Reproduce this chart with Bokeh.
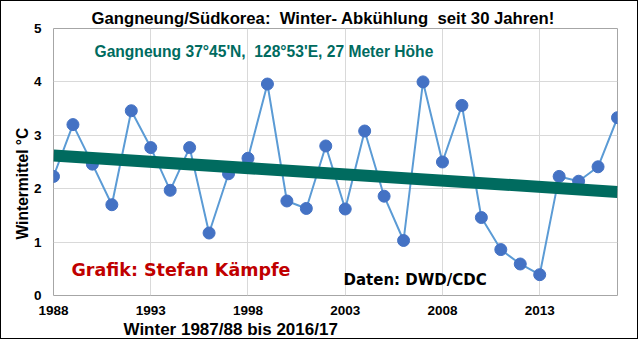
from bokeh.plotting import figure
from bokeh.models import Range1d, FixedTicker, Label, Title
from bokeh.embed import file_html
from bokeh.resources import INLINE

years = list(range(1988, 2018))
temps = [2.23, 3.20, 2.46, 1.70, 3.46, 2.77, 1.97, 2.77, 1.17, 2.28,
         2.57, 3.96, 1.77, 1.63, 2.80, 1.62, 3.08, 1.86, 1.03, 4.00,
         2.50, 3.56, 1.46, 0.86, 0.59, 0.39, 2.23, 2.14, 2.41, 3.33]
trend_years = [1988, 2017]
trend_vals = [2.62, 1.94]
x_ticks = [1988, 1993, 1998, 2003, 2008, 2013]
y_ticks = [0, 1, 2, 3, 4, 5]

NB = "\u00a0"
title_text = "Gangneung/Südkorea:" + NB + " Winter- Abkühlung" + NB + " seit 30 Jahren!"
station_text = "Gangneung 37°45'N," + NB + " 128°53'E, 27 Meter Höhe"
author_text = "Grafik: Stefan Kämpfe"
source_text = "Daten: DWD/CDC"
xlabel = "Winter 1987/88 bis 2016/17"
ylabel = "Wintermittel °C"

FONT = "Liberation Sans"
WIDE = "DejaVu Sans"
TEAL = "#006B5F"

W, H = 638, 339
FL, FT, FR, FB = 52, 27, 616, 294  # frame edges in canvas pixels

p = figure(width=W, height=H, output_backend="svg", toolbar_location=None,
           x_range=Range1d(1988, 2017), y_range=Range1d(0, 5),
           min_border_left=FL, min_border_right=W - FR, min_border_top=FT,
           min_border_bottom=H - FB)
p.styles = {"border": "1px solid black"}
p.background_fill_color = "white"
p.border_fill_color = "white"
p.outline_line_color = "#A6A6A6"
p.outline_line_width = 1

p.title = Title(text=title_text, align="left", offset=38, standoff=0,
                vertical_align="middle", text_font=FONT, text_font_style="bold",
                text_font_size="16.7px", text_color="black")

p.xaxis.ticker = FixedTicker(ticks=x_ticks)
p.yaxis.ticker = FixedTicker(ticks=y_ticks)
for ax in (p.xaxis, p.yaxis):
    ax.axis_line_color = None
    ax.major_tick_line_color = None
    ax.minor_tick_line_color = None
    ax.major_tick_out = 0
    ax.major_tick_in = 0
    ax.minor_tick_out = 0
    ax.minor_tick_in = 0
    ax.major_label_text_font = FONT
    ax.major_label_text_font_style = "bold"
    ax.major_label_text_font_size = "13.5px"
    ax.major_label_text_color = "black"
p.xaxis.major_label_standoff = 10
p.yaxis.major_label_standoff = 12

p.add_layout(Title(text=xlabel, align="left", offset=70, standoff=0,
                   text_font=FONT, text_font_style="bold",
                   text_font_size="17px", text_color="black"), "below")
p.add_layout(Title(text=ylabel, align="left", offset=56, standoff=0,
                   text_font=FONT, text_font_style="bold",
                   text_font_size="15.6px", text_color="black"), "left")

p.xgrid.grid_line_color = "#D9D9D9"
p.ygrid.grid_line_color = "#D9D9D9"

p.line(years, temps, line_color="#5B9BD5", line_width=2)
p.scatter(years, temps, size=12, fill_color="#4472C4", line_color="#4472C4")
p.line(trend_years, trend_vals, line_color=TEAL, line_width=12)

def add_label(txt, X, Y, size, color="black", font=FONT):
    # X, Y: canvas coordinates from top-left; Label screen units are frame-relative
    p.add_layout(Label(x=X - FL, y=FB - Y, x_units="screen", y_units="screen",
                       text=txt, text_font=font, text_font_style="bold",
                       text_font_size=size, text_color=color,
                       text_align="left", text_baseline="middle"))

add_label(station_text, 93, 50, "15.6px", color=TEAL)
add_label(author_text, 70, 268, "17.5px", color="#C00000", font=WIDE)
add_label(source_text, 342, 278, "15px", font=WIDE)

open("out.html", "w").write(file_html(p, INLINE))
